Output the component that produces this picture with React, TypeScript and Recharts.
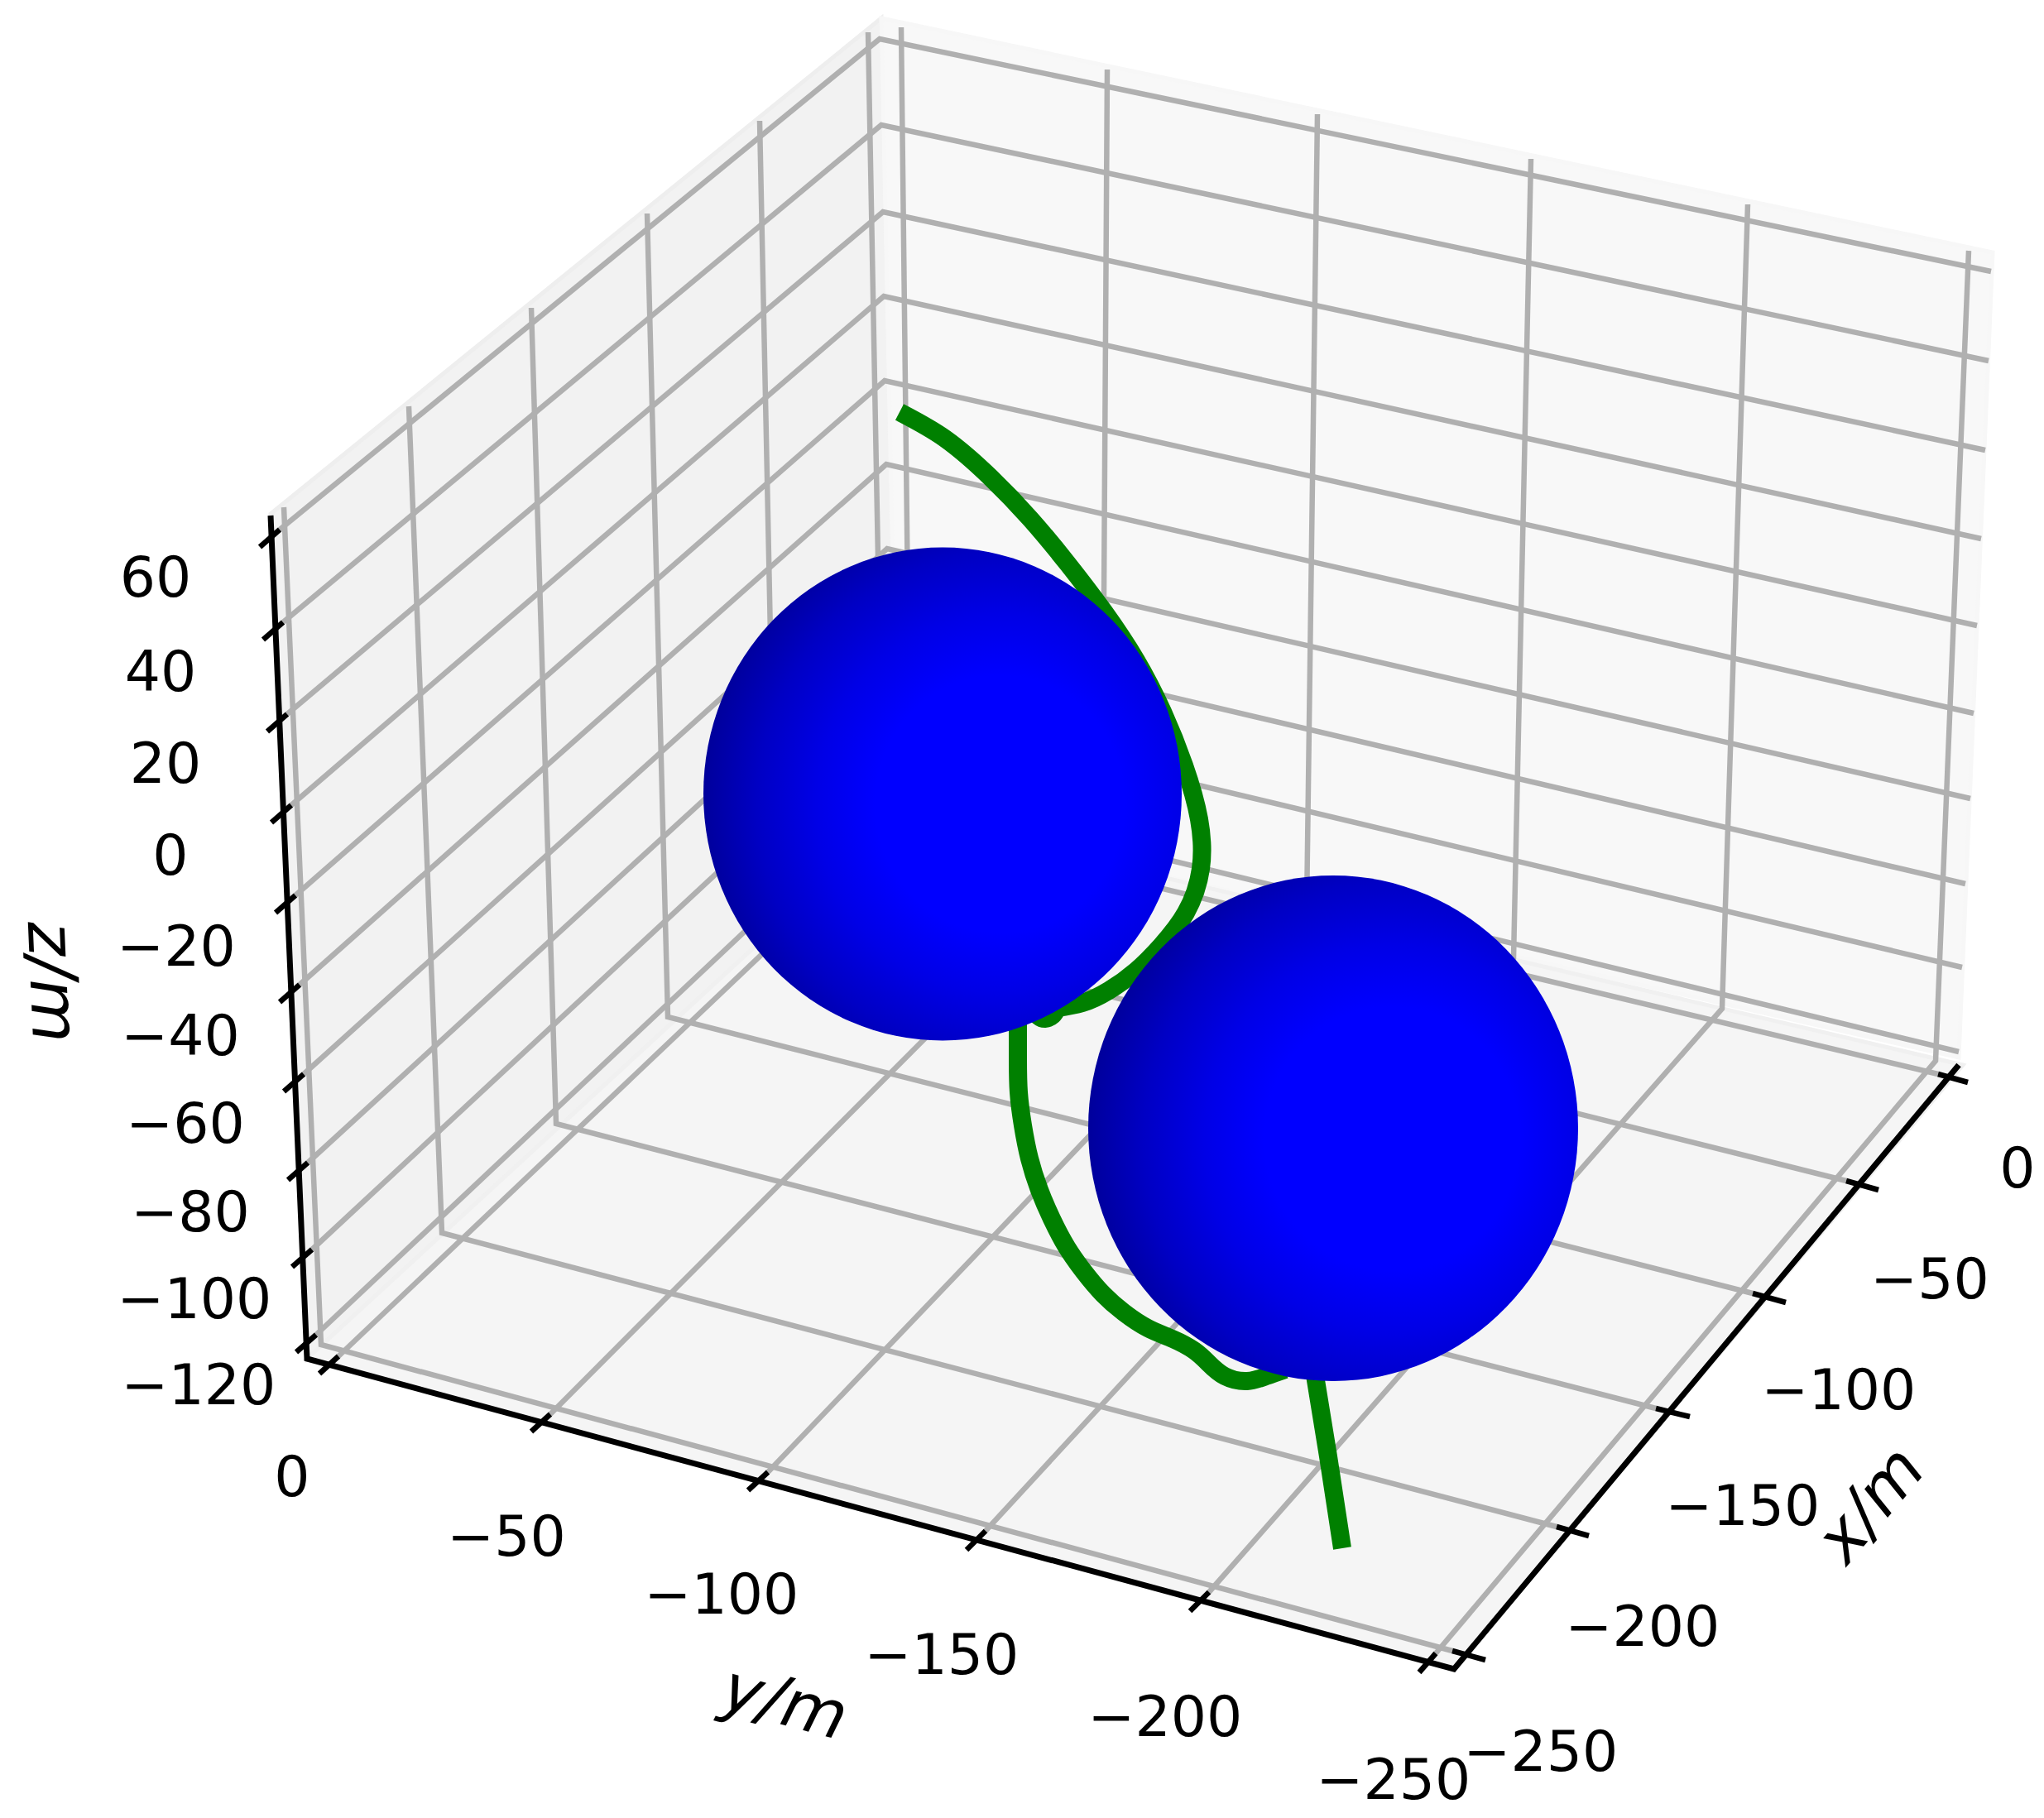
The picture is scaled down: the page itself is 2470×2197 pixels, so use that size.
import { Scatter, ScatterChart, XAxis, YAxis } from "recharts";

// everything is in picture units: the hidden axes run 0..2470 and 0..2197
type Pt = [number, number];

const WIDTH = 2470;
const HEIGHT = 2197;
const FONT = "'DejaVu Sans', sans-serif";

// walls and floor of the 3D box
const leftWall: Pt[] = [[327, 621], [1065, 22], [1085, 985], [371, 1642]];
const rightWall: Pt[] = [[1065, 22], [2408, 305], [2367, 1278], [1085, 985]];
const floor: Pt[] = [[371, 1642], [1085, 985], [2372, 1287], [1757, 2017]];

// z grid: tick end on the left, back edge, far right end
const zGridLeft: Pt[] = [[338, 640], [342, 752], [347, 863], [352, 973], [357, 1082], [362, 1190], [367, 1298], [372, 1405], [377, 1510], [382, 1613]];
const zGridBack: Pt[] = [[1063, 47], [1065, 151], [1067, 256], [1068, 358], [1069, 460], [1071, 561], [1072, 663], [1074, 762], [1076, 860], [1078, 958]];
const zGridRight: Pt[] = [[2406, 328], [2403, 436], [2399, 544], [2394, 651], [2389, 756], [2385, 862], [2381, 965], [2375, 1068], [2371, 1169], [2367, 1271]];

// x grid: top of left wall, floor corner, x tick end
const xGridTop: Pt[] = [[343, 613], [494, 491], [642, 372], [782, 258], [918, 146], [1049, 39]];
const xGridFloor: Pt[] = [[388, 1625], [534, 1490], [672, 1358], [807, 1229], [938, 1103], [1067, 993]];
const xTickInner: Pt[] = [[1755, 1995], [1881, 1845], [2001, 1702], [2118, 1563], [2231, 1427], [2342, 1298]];
const xTickOuter: Pt[] = [[1795, 2006], [1920, 1856], [2042, 1712], [2158, 1574], [2270, 1438], [2378, 1308]];

// y grid: y tick end, floor corner, top of right wall
const yTickInner: Pt[] = [[409, 1639], [665, 1709], [928, 1779], [1191, 1850], [1461, 1924], [1735, 1998]];
const yTickOuter: Pt[] = [[386, 1660], [642, 1730], [904, 1801], [1168, 1873], [1438, 1947], [1715, 2021]];
const yGridFloor: Pt[] = [[1100, 983], [1332, 1040], [1579, 1098], [1829, 1158], [2081, 1219], [2339, 1282]];
const yGridTop: Pt[] = [[1089, 33], [1338, 84], [1592, 138], [1850, 192], [2112, 247], [2379, 303]];

const zTickOuter: Pt[] = [[314, 661], [318, 773], [323, 884], [328, 994], [333, 1103], [338, 1211], [343, 1319], [348, 1426], [353, 1531], [358, 1634]];

const axisLines: Pt[] = [[327, 623], [371, 1642], [1757, 2017], [2367, 1287]];

// the trajectory, it passes behind both spheres
const pathUpper: Pt[] = [[1087, 498], [1142, 530], [1197, 577], [1245, 627], [1290, 681], [1334, 739], [1373, 798], [1405, 860], [1431, 925], [1449, 990], [1451, 1050], [1433, 1103], [1403, 1143], [1373, 1173], [1340, 1197], [1308, 1212], [1277, 1218]];
const pathHook: Pt[] = [[1278, 1218], [1272, 1227], [1263, 1231], [1255, 1228], [1248, 1220]];
const pathMiddle: Pt[] = [[1230, 1210], [1230, 1243], [1230, 1280], [1231, 1320], [1236, 1360], [1244, 1400], [1256, 1438], [1271, 1473], [1289, 1507], [1310, 1537], [1333, 1564], [1358, 1586], [1387, 1605], [1417, 1618], [1443, 1632], [1460, 1647], [1480, 1663], [1507, 1669], [1530, 1663], [1553, 1655]];
const pathLower: Pt[] = [[1586, 1640], [1590, 1668], [1605, 1760], [1622, 1871]];

const sphereCenters: Pt[] = [[1139, 959.5], [1611, 1363.5]];
const sphereRadiiX = [289, 296];
const sphereRadiiY = [298, 305.5];

const zLabels = ["60", "40", "20", "0", "\u221220", "\u221240", "\u221260", "\u221280", "\u2212100", "\u2212120"];
const zLabelPos: Pt[] = [[188, 696], [194, 810], [200, 921], [206, 1032], [213, 1142], [218, 1250], [224, 1356], [230, 1463], [235, 1568], [240, 1672]];
const yLabels = ["0", "\u221250", "\u2212100", "\u2212150", "\u2212200", "\u2212250"];
const yLabelPos: Pt[] = [[353, 1783], [612, 1855], [872, 1925], [1138, 1998], [1408, 2073], [1684, 2149]];
const xLabels = ["0", "\u221250", "\u2212100", "\u2212150", "\u2212200", "\u2212250"];
const xLabelPos: Pt[] = [[2438, 1410], [2332, 1544], [2222, 1678], [2106, 1818], [1985, 1964], [1862, 2115]];

const axisTitles = ["x/m", "y/m", "z/m"];
const axisTitlePos: Pt[] = [[2265, 1822], [947, 2064], [57, 1187]];
const axisTitleAngles = [-50, 15, 87.5];

const GRID = "#b0b0b0";
const GREEN = "#008000";
const toPoints = (pts: Pt[]) => pts.map(([x, y]) => ({ x, y }));
const noMark = () => <g />;

function Pane({ points, fill, stroke }: { points: Pt[]; fill: string; stroke: string }) {
  return (
    <Scatter
      data={toPoints(points)}
      isAnimationActive={false}
      shape={noMark}
      line={(p: any) => (
        <polygon
          points={p.points.map((q: any) => `${q.x},${q.y}`).join(" ")}
          fill={fill}
          stroke={stroke}
          strokeWidth={5}
        />
      )}
    />
  );
}

function polyline(pts: Pt[], stroke: string, width: number, key: string, smooth = false, join = "round") {
  return (
    <Scatter
      key={key}
      data={toPoints(pts)}
      isAnimationActive={false}
      shape={noMark}
      lineType="joint"
      lineJointType={smooth ? "natural" : "linear"}
      line={{ stroke, strokeWidth: width, strokeLinecap: "butt", strokeLinejoin: join, fill: "none" } as any}
    />
  );
}

function tickText(labels: string[], pos: Pt[], key: string) {
  const data = labels.map((label, i) => ({ x: pos[i][0], y: pos[i][1], label }));
  return (
    <Scatter
      key={key}
      data={data}
      isAnimationActive={false}
      shape={(p: any) => (
        <text x={p.cx} y={p.cy} dy="0.365em" textAnchor="middle" fontFamily={FONT} fontSize={68} fill="#000">
          {p.payload.label}
        </text>
      )}
    />
  );
}

function SphereMark(p: any) {
  const id = `sphere-${p.payload.id}`;
  return (
    <g>
      <defs>
        <radialGradient id={id} cx="0.62" cy="0.52" r="0.62">
          <stop offset="0" stopColor="#0000ff" />
          <stop offset="0.42" stopColor="#0000ff" />
          <stop offset="0.62" stopColor="#0000e6" />
          <stop offset="0.82" stopColor="#0000c4" />
          <stop offset="1" stopColor="#00009c" />
        </radialGradient>
      </defs>
      <ellipse cx={p.cx} cy={p.cy} rx={p.payload.rx} ry={p.payload.ry} fill={`url(#${id})`} />
    </g>
  );
}

export default function App() {
  const spheres = sphereCenters.map(([x, y], i) => ({ x, y, rx: sphereRadiiX[i], ry: sphereRadiiY[i], id: i }));
  const titles = axisTitles.map((label, i) => ({ x: axisTitlePos[i][0], y: axisTitlePos[i][1], label, angle: axisTitleAngles[i] }));

  return (
    <div style={{ position: "absolute", left: 0, top: 0, width: WIDTH, height: HEIGHT, background: "#fff" }}>
      <ScatterChart width={WIDTH} height={HEIGHT} margin={{ top: 0, right: 0, bottom: 0, left: 0 }}>
        <XAxis type="number" dataKey="x" domain={[0, WIDTH]} hide />
        <YAxis type="number" dataKey="y" domain={[0, HEIGHT]} reversed hide />

        {Pane({ points: leftWall, fill: "#f2f2f2", stroke: "#eeeeee" })}
        {Pane({ points: rightWall, fill: "#f8f8f8", stroke: "#f7f7f7" })}
        {Pane({ points: floor, fill: "#f5f5f5", stroke: "#f0f0f0" })}

        {zGridLeft.map((p, i) => polyline([p, zGridBack[i], zGridRight[i]], GRID, 6.5, `z${i}`, false, "miter"))}
        {xGridTop.map((p, i) => polyline([p, xGridFloor[i], xTickInner[i]], GRID, 6.5, `x${i}`, false, "miter"))}
        {yTickInner.map((p, i) => polyline([p, yGridFloor[i], yGridTop[i]], GRID, 6.5, `y${i}`, false, "miter"))}

        {polyline(pathUpper, GREEN, 22, "pathUpper", true)}
        {polyline(pathHook, GREEN, 22, "pathHook", true)}
        {polyline(pathMiddle, GREEN, 22, "pathMiddle", true)}
        {polyline(pathLower, GREEN, 22, "pathLower")}

        <Scatter data={spheres} isAnimationActive={false} shape={SphereMark} />

        {polyline(axisLines, "#000", 7, "axes", false, "miter")}
        {zGridLeft.map((p, i) => polyline([p, zTickOuter[i]], "#000", 6.5, `zt${i}`))}
        {xTickInner.map((p, i) => polyline([p, xTickOuter[i]], "#000", 6.5, `xt${i}`))}
        {yTickInner.map((p, i) => polyline([p, yTickOuter[i]], "#000", 6.5, `yt${i}`))}

        {tickText(zLabels, zLabelPos, "zl")}
        {tickText(yLabels, yLabelPos, "yl")}
        {tickText(xLabels, xLabelPos, "xl")}

        <Scatter
          data={titles}
          isAnimationActive={false}
          shape={(p: any) => (
            <text
              x={p.cx}
              y={p.cy}
              dy="0.25em"
              textAnchor="middle"
              fontFamily={FONT}
              fontStyle="italic"
              fontSize={80}
              fill="#000"
              transform={`rotate(${p.payload.angle} ${p.cx} ${p.cy})`}
            >
              {p.payload.label}
            </text>
          )}
        />
      </ScatterChart>
    </div>
  );
}
